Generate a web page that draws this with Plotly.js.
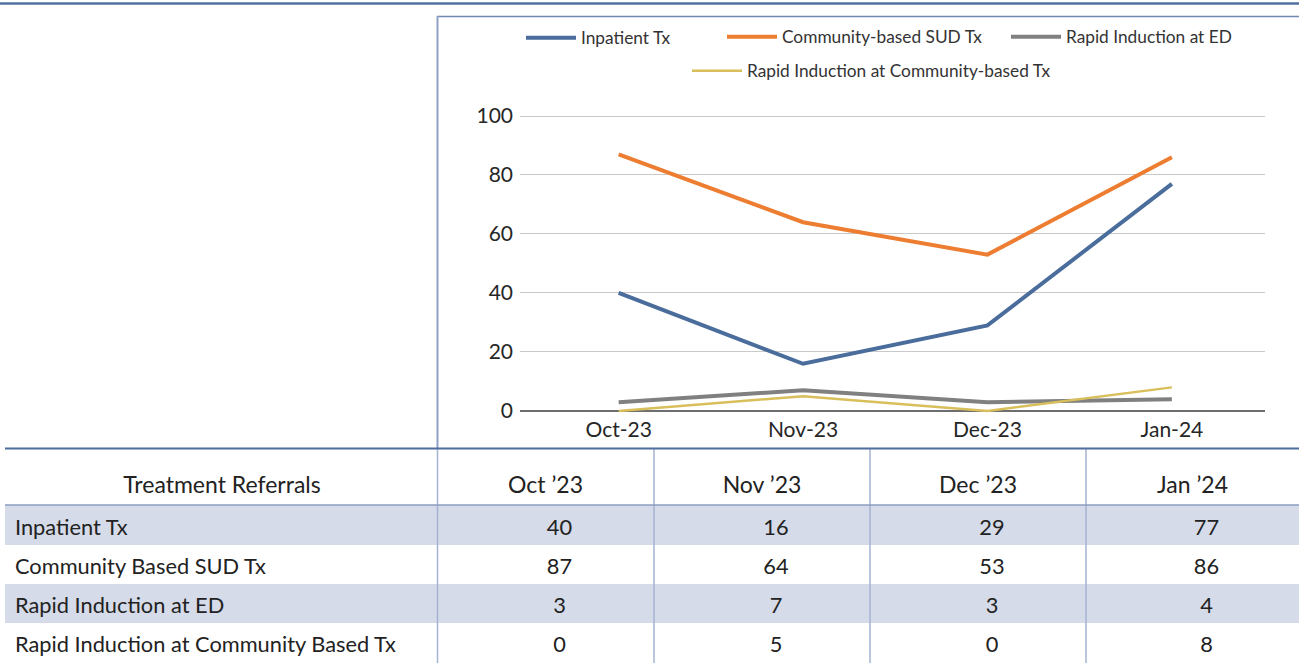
<!DOCTYPE html>
<html>
<head>
<meta charset="utf-8">
<script src="https://cdn.plot.ly/plotly-3.0.1.min.js"></script>
<style>
  html, body { margin: 0; padding: 0; background: #fff; overflow: hidden; height: 663px; }
  #chart { width: 1299px; height: 675px; }
</style>
</head>
<body>
<div id="chart"></div>
<script>
// ---- data ----
const months = ['Oct-23', 'Nov-23', 'Dec-23', 'Jan-24'];
const tableMonths = ['Oct \u201923', 'Nov \u201923', 'Dec \u201923', 'Jan \u201924'];
const seriesNames = ['Inpatient Tx', 'Community-based SUD Tx', 'Rapid Induction at ED', 'Rapid Induction at Community-based Tx'];
const rowLabels = ['Inpatient Tx', 'Community Based SUD Tx', 'Rapid Induction at ED', 'Rapid Induction at Community Based Tx'];
const inpatient = [40, 16, 29, 77];
const communitySUD = [87, 64, 53, 86];
const rapidED = [3, 7, 3, 4];
const rapidCommunity = [0, 5, 0, 8];
const tableTitle = 'Treatment Referrals';

// ---- styling ----
const W = 1299, H = 675;           // layout is slightly taller than the 663px window
const px = x => x / W;
const py = y => 1 - y / H;
const FONT = 'Lato, "Open Sans", sans-serif';
const colors = ['#4a6d9c', '#ed7d31', '#808080', '#d9bf5b'];
const widths = [4, 4, 4, 2.5];
const series = [inpatient, communitySUD, rapidED, rapidCommunity];
const legendIds = ['legend', 'legend2', 'legend3', 'legend4'];

const traces = series.map((vals, i) => ({
  type: 'scatter',
  mode: 'lines',
  x: months,
  y: vals,
  name: seriesNames[i],
  line: { color: colors[i], width: widths[i] },
  legend: legendIds[i],
  hoverinfo: 'x+y+name'
}));

// table columns built from the series
const tableCols = [rowLabels].concat(months.map((m, j) => series.map(s => s[j])));
const numPad = '\u00a0\u00a0\u00a0\u00a0\u00a0';
traces.push({
  type: 'table',
  domain: { x: [px(7), 1], y: [py(667), py(468)] },
  columnwidth: [430, 217, 216, 216, 213],
  header: {
    values: [tableTitle].concat(tableMonths),
    align: 'center',
    height: 43,
    fill: { color: 'rgba(0,0,0,0)' },
    line: { width: 0, color: 'rgba(0,0,0,0)' },
    font: { family: FONT, size: 23, color: '#222' }
  },
  cells: {
    values: tableCols,
    prefix: ['', numPad, numPad, numPad, numPad],
    align: ['left', 'center', 'center', 'center', 'center'],
    height: 39,
    fill: { color: 'rgba(0,0,0,0)' },
    line: { width: 0, color: 'rgba(0,0,0,0)' },
    font: { family: FONT, size: 21.8, color: '#222' }
  }
});

const legendBase = {
  orientation: 'h',
  xanchor: 'left',
  yanchor: 'middle',
  bgcolor: 'rgba(0,0,0,0)',
  itemwidth: 50,
  font: { family: FONT, size: 17.3, color: '#333' }
};
const legendPos = [[521, 38], [722, 37], [1006, 37], [687, 71]];

const shapes = [];
// row bands
[[505, 545], [584, 623]].forEach(([a, b]) => shapes.push({
  type: 'rect', xref: 'paper', yref: 'paper', layer: 'below',
  x0: px(5), x1: 1, y0: py(a), y1: py(b),
  fillcolor: '#d5dbe8', line: { width: 0 }
}));
const hline = (y, x0, x1, color, w) => shapes.push({
  type: 'line', xref: 'paper', yref: 'paper', layer: 'above',
  x0: px(x0), x1: px(x1), y0: py(y), y1: py(y), line: { color: color, width: w }
});
const vline = (x, y0, y1, color, w) => shapes.push({
  type: 'line', xref: 'paper', yref: 'paper', layer: 'above',
  x0: px(x), x1: px(x), y0: py(y0), y1: py(y1), line: { color: color, width: w }
});
hline(3.5, 0, W, '#52709f', 2.5);
hline(16.5, 437, W, '#6f88b4', 1.5);
vline(437.5, 16, 448, '#8ea1c4', 2);
[654, 870, 1086].forEach(x => vline(x, 448, H, '#a4b3d1', 1.5));
vline(437.5, 448, H, '#a4b3d1', 1.5);
hline(448.5, 5, W, '#4f6d9e', 2);
hline(505, 5, W, '#8b9dc0', 1.5);

const layout = {
  width: W, height: H,
  margin: { l: 0, r: 0, t: 0, b: 0 },
  paper_bgcolor: '#fff',
  plot_bgcolor: 'rgba(0,0,0,0)',
  showlegend: true,
  font: { family: FONT, color: '#262626' },
  xaxis: {
    domain: [px(520), px(1265)],
    type: 'category',
    range: [-0.535, 3.505],
    showgrid: false, showline: false, zeroline: false, ticks: '',
    tickfont: { family: FONT, size: 21, color: '#262626' },
    fixedrange: true
  },
  yaxis: {
    domain: [py(415.4), py(113.05)],
    range: [-1.5, 101],
    tick0: 0, dtick: 20,
    showgrid: true, gridcolor: '#c9c9c9', gridwidth: 1,
    zeroline: true, zerolinecolor: '#6e6e6e', zerolinewidth: 2,
    showline: false, ticks: '',
    ticklabelstandoff: 6,
    tickfont: { family: FONT, size: 21, color: '#262626' },
    fixedrange: true
  },
  shapes: shapes
};
legendIds.forEach((id, i) => {
  layout[id] = Object.assign({}, legendBase, {
    x: px(legendPos[i][0]), y: py(legendPos[i][1])
  });
});

Plotly.newPlot('chart', traces, layout, { displayModeBar: false, staticPlot: true });
</script>
</body>
</html>
